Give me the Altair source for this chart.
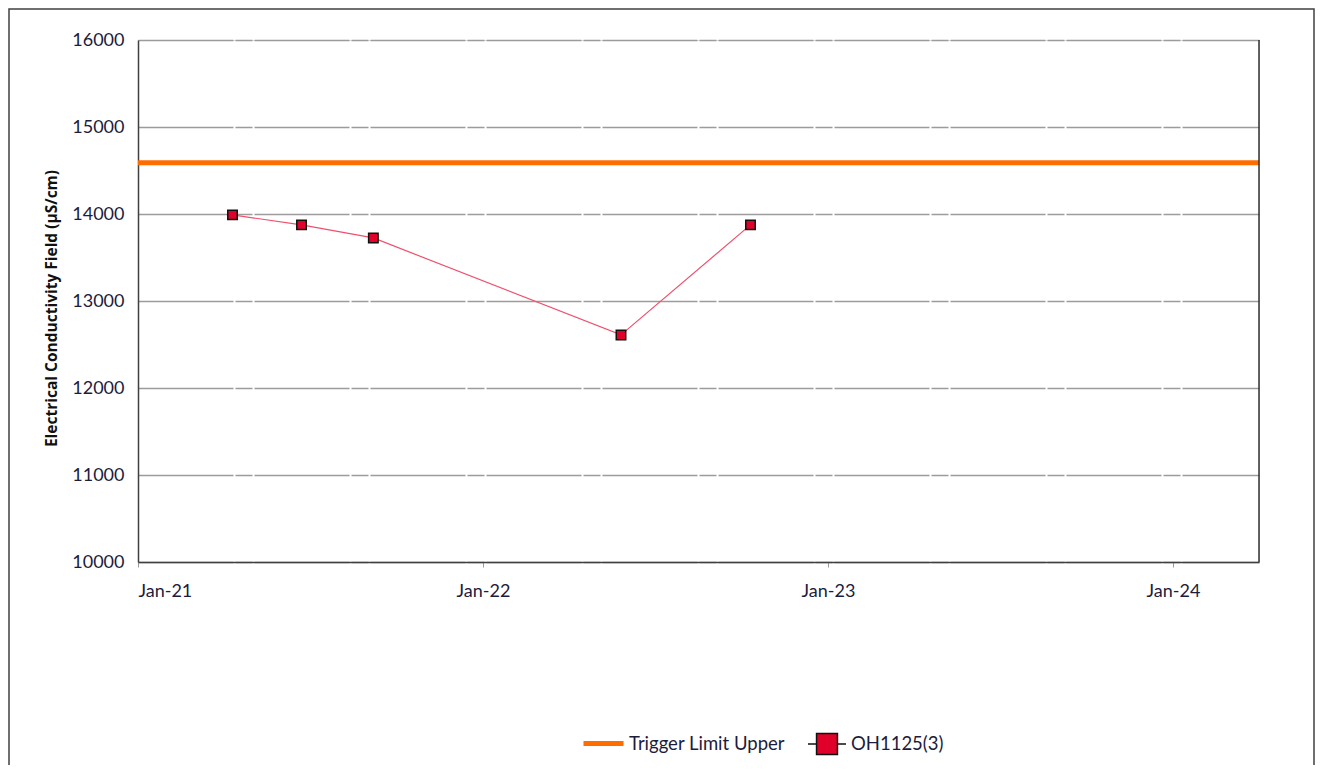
import altair as alt
import pandas as pd

# ---- data ----
dates = ["2021-04-11", "2021-06-23", "2021-09-07", "2022-05-27", "2022-10-11"]
values = [13990, 13875, 13725, 12610, 13875]
series_name = "OH1125(3)"
trigger_name = "Trigger Limit Upper"
trigger_value = 14590
x_domain = ["2021-01-01", "2024-04-01"]
y_ticks = [10000, 11000, 12000, 13000, 14000, 15000, 16000]

df = pd.DataFrame({"date": dates, "value": values, "series": [series_name] * len(dates)})
trig = pd.DataFrame({"name": [trigger_name], "value": [trigger_value]})

FONT = "Lato"
LABEL_COLOR = "#1c1c3c"
W, H = 1121, 522
PAD_L, PAD_T = 130, 32
PAD_R, PAD_B = 1307 - W - PAD_L, 757 - H - PAD_T

x_enc = alt.X(
    "date:T",
    scale=alt.Scale(domain=x_domain),
    axis=alt.Axis(
        title=None, format="%b-%y", tickCount={"interval": "year", "step": 1},
        grid=False, labelFontSize=18, labelColor=LABEL_COLOR, labelFont=FONT,
        labelPadding=15, tickSize=5, tickColor="#9a9a9a",
        domainColor="#404040", domainWidth=1.5,
    ),
)
y_scale = alt.Scale(domain=[10000, 16000], nice=False, zero=False)
y_axis = alt.Axis(
    title="Electrical Conductivity Field (µS/cm)", values=y_ticks, format="d",
    titleFont="Open Sans", titleFontSize=15.5, titleFontWeight="bold", titleColor="#111111",
    titlePadding=12, titleY=268,
    labelFontSize=18, labelColor=LABEL_COLOR, labelFont=FONT, labelPadding=14,
    ticks=False, domainColor="#404040", domainWidth=1.5,
    grid=True, gridColor="#9c9c9c", gridWidth=1.3, gridDash=[95, 2, 17, 2],
)

line = alt.Chart(df).mark_line(color="#f0506c", strokeWidth=1.2).encode(
    x=x_enc, y=alt.Y("value:Q", scale=y_scale, axis=y_axis)
)

points = alt.Chart(df).mark_point(
    shape="square", filled=True, size=90, stroke="#111111", strokeWidth=1.5, opacity=1
).encode(
    x="date:T",
    y=alt.Y("value:Q", scale=y_scale),
    fill=alt.Fill(
        "series:N",
        scale=alt.Scale(domain=[series_name], range=["#e0002a"]),
        legend=alt.Legend(
            title=None, orient="none", legendX=669, legendY=684,
            symbolType="M-1,0H-0.55M0.55,0H1M-0.55,-0.55H0.55V0.55H-0.55Z",
            symbolSize=1444, symbolStrokeColor="#111111", symbolStrokeWidth=1.5,
            labelFontSize=18.5, labelFont=FONT, labelColor=LABEL_COLOR, labelOffset=4,
        ),
    ),
)

trigger = alt.Chart(trig).mark_rule(strokeWidth=5).encode(
    y=alt.Y("value:Q", scale=y_scale),
    stroke=alt.Stroke(
        "name:N",
        scale=alt.Scale(domain=[trigger_name], range=["#ff6c00"]),
        legend=alt.Legend(
            title=None, orient="none", legendX=443, legendY=681,
            symbolType="stroke", symbolSize=1600, symbolStrokeWidth=5,
            labelFontSize=18.5, labelFont=FONT, labelColor=LABEL_COLOR, labelOffset=3,
        ),
    ),
)

right_edge = alt.Chart(pd.DataFrame({"d": [x_domain[1]]})).mark_rule(
    color="#303030", strokeWidth=1.5
).encode(x="d:T")

frame = alt.Chart(pd.DataFrame({"k": [0]})).mark_rect(
    filled=False, stroke="#404040", strokeWidth=1.5
).encode(
    x=alt.value(-PAD_L + 1), x2=alt.value(W + PAD_R - 1),
    y=alt.value(-PAD_T + 1), y2=alt.value(H + PAD_B + 20),
)

chart = alt.layer(frame, trigger, line, points, right_edge).resolve_scale(
    fill="independent", stroke="independent"
).properties(
    width=W, height=H,
    autosize=alt.AutoSizeParams(type="none"),
    padding={"left": PAD_L, "top": PAD_T, "right": PAD_R, "bottom": PAD_B},
).configure_view(stroke=None).configure(background="white")

chart.save("out.html", embed_options={"renderer": "svg", "actions": False})
